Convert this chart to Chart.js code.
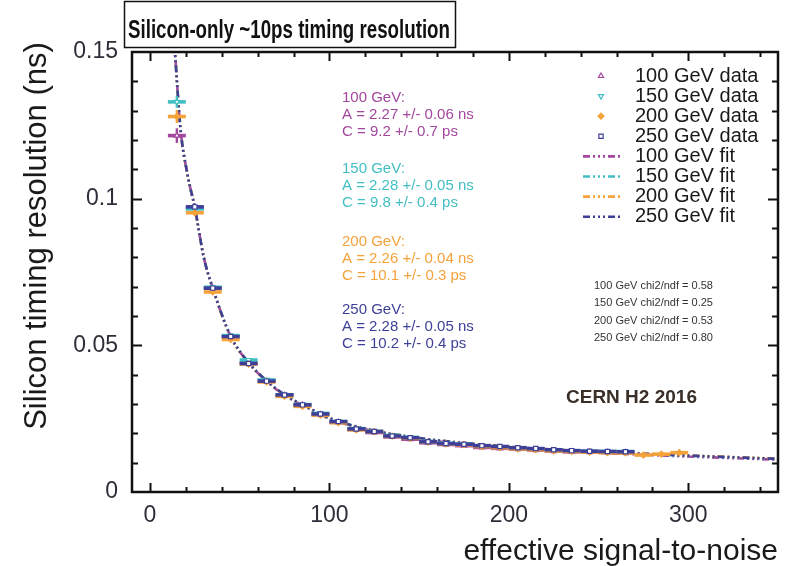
<!DOCTYPE html>
<html>
<head>
<meta charset="utf-8">
<script src="https://cdn.jsdelivr.net/npm/chart.js@4.4.0/dist/chart.umd.min.js"></script>
<style>
  html, body { margin: 0; padding: 0; background: #fff; }
  #wrap { width: 792px; height: 566px; }
</style>
</head>
<body>
<div id="wrap"><canvas id="chart" width="792" height="566"></canvas></div>
<script>
// axis ticks
const xTicks = [0, 100, 200, 300];
const yTicks = [0, 0.05, 0.1, 0.15];

// data: effective S/N bins and timing resolution (ns)
const snr100 = [15, 25, 35, 45, 55, 65, 75, 85, 95, 105, 115, 125, 135, 145, 155, 165, 175, 185, 195, 205, 215, 225, 235, 245, 255, 265];
const res100 = [0.1215, 0.0970, 0.0695, 0.0530, 0.0440, 0.0378, 0.0330, 0.0297, 0.0264, 0.0238, 0.0213, 0.0203, 0.0188, 0.0180, 0.0168, 0.0162, 0.0158, 0.0152, 0.0149, 0.0146, 0.0143, 0.0139, 0.0137, 0.0136, 0.0135, 0.0135];
const err100 = [0.0025, 0.0012, 0.0009, 0.0008, 0.0007, 0.0006, 0.0006, 0.0005, 0.0005, 0.0005, 0.0005, 0.0005, 0.0005, 0.0005, 0.0005, 0.0005, 0.0005, 0.0005, 0.0005, 0.0005, 0.0005, 0.0005, 0.0005, 0.0005, 0.0005, 0.0005];

const snr150 = [15, 25, 35, 45, 55, 65, 75, 85, 95, 105, 115, 125, 135, 145, 155, 165, 175, 185, 195, 205, 215, 225, 235, 245, 255, 265];
const res150 = [0.1330, 0.0965, 0.0698, 0.0533, 0.0450, 0.0382, 0.0331, 0.0298, 0.0268, 0.0240, 0.0216, 0.0207, 0.0193, 0.0186, 0.0172, 0.0166, 0.0163, 0.0157, 0.0153, 0.0149, 0.0146, 0.0142, 0.0140, 0.0139, 0.0138, 0.0138];
const err150 = [0.0020, 0.0010, 0.0008, 0.0007, 0.0006, 0.0005, 0.0005, 0.0005, 0.0004, 0.0004, 0.0004, 0.0004, 0.0004, 0.0004, 0.0004, 0.0004, 0.0004, 0.0004, 0.0004, 0.0004, 0.0004, 0.0004, 0.0004, 0.0004, 0.0004, 0.0004];

const snr200 = [15, 25, 35, 45, 55, 65, 75, 85, 95, 105, 115, 125, 135, 145, 155, 165, 175, 185, 195, 205, 215, 225, 235, 245, 255, 265, 275, 285, 295];
const res200 = [0.1280, 0.0952, 0.0682, 0.0520, 0.0436, 0.0375, 0.0326, 0.0292, 0.0262, 0.0236, 0.0212, 0.0206, 0.0190, 0.0183, 0.0170, 0.0164, 0.0161, 0.0155, 0.0151, 0.0147, 0.0144, 0.0140, 0.0138, 0.0136, 0.0134, 0.0133, 0.0126, 0.0129, 0.0134];
const err200 = [0.0022, 0.0010, 0.0008, 0.0007, 0.0006, 0.0005, 0.0005, 0.0004, 0.0004, 0.0004, 0.0004, 0.0004, 0.0004, 0.0004, 0.0004, 0.0004, 0.0004, 0.0004, 0.0004, 0.0004, 0.0004, 0.0004, 0.0004, 0.0004, 0.0004, 0.0004, 0.0005, 0.0005, 0.0006];

const snr250 = [25, 35, 45, 55, 65, 75, 85, 95, 105, 115, 125, 135, 145, 155, 165, 175, 185, 195, 205, 215, 225, 235, 245, 255, 265];
const res250 = [0.0972, 0.0695, 0.0530, 0.0438, 0.0378, 0.0331, 0.0297, 0.0266, 0.0240, 0.0215, 0.0206, 0.0191, 0.0185, 0.0171, 0.0165, 0.0163, 0.0158, 0.0155, 0.0151, 0.0148, 0.0144, 0.0141, 0.0139, 0.0138, 0.0137];
const err250 = [0.0010, 0.0008, 0.0007, 0.0006, 0.0005, 0.0005, 0.0004, 0.0004, 0.0004, 0.0004, 0.0004, 0.0004, 0.0004, 0.0004, 0.0004, 0.0004, 0.0004, 0.0004, 0.0004, 0.0004, 0.0004, 0.0004, 0.0004, 0.0004, 0.0004];

const binHalfWidth = 5;

// fit curves
const fitSnr = [13.5, 17, 21, 25, 30, 35, 45, 55, 65, 75, 90, 100, 125, 150, 175, 200, 250, 300, 350];
const fit100 = [0.154, 0.124, 0.108, 0.097, 0.080, 0.0695, 0.0530, 0.0440, 0.0378, 0.0330, 0.0280, 0.0250, 0.0207, 0.0181, 0.0164, 0.0151, 0.0134, 0.0121, 0.0110];
const fit150 = [0.154, 0.124, 0.108, 0.097, 0.080, 0.0696, 0.0532, 0.0442, 0.0380, 0.0332, 0.0282, 0.0252, 0.0209, 0.0183, 0.0166, 0.0153, 0.0136, 0.0124, 0.0113];
const fit200 = [0.154, 0.124, 0.108, 0.097, 0.080, 0.0694, 0.0529, 0.0440, 0.0378, 0.0331, 0.0281, 0.0251, 0.0209, 0.0184, 0.0167, 0.0154, 0.0137, 0.0125, 0.0114];
const fit250 = [0.154, 0.124, 0.108, 0.097, 0.080, 0.0695, 0.0531, 0.0441, 0.0379, 0.0332, 0.0282, 0.0252, 0.0209, 0.0184, 0.0167, 0.0154, 0.0137, 0.0124, 0.0113];

const energies = ['100 GeV', '150 GeV', '200 GeV', '250 GeV'];
const fitA = ['2.27 +/- 0.06', '2.28 +/- 0.05', '2.26 +/- 0.04', '2.28 +/- 0.05'];
const fitC = ['9.2 +/- 0.7', '9.8 +/- 0.4', '10.1 +/- 0.3', '10.2 +/- 0.4'];
const chi2ndf = ['0.58', '0.25', '0.53', '0.80'];

const colors = ['#a2479d', '#42bfc3', '#f5a23b', '#3d3f98'];
const markers = [
  { style: 'triangle', rotation: 0, fill: '#fff' },
  { style: 'triangle', rotation: 180, fill: '#fff' },
  { style: 'rectRot', rotation: 0, fill: null },
  { style: 'rect', rotation: 0, fill: '#fff' }
];
const fitDash = [7, 3, 2, 3, 2, 3, 2, 3];

const FONT = "'Liberation Sans', Arial, Helvetica, sans-serif";
Chart.defaults.font.family = FONT;

const toPts = (xs, ys) => xs.map((x, i) => ({ x, y: ys[i] }));
const dataSets = [[snr100, res100, err100], [snr150, res150, err150], [snr200, res200, err200], [snr250, res250, err250]];
const fitSets = [fit100, fit150, fit200, fit250];

const datasets = [];
dataSets.forEach(([xs, ys, es], i) => {
  datasets.push({
    label: energies[i] + ' data',
    data: toPts(xs, ys),
    errY: es,
    isData: true,
    showLine: false,
    order: 4 - i,
    pointStyle: markers[i].style,
    rotation: markers[i].rotation,
    pointRadius: 3,
    pointBorderWidth: 1.2,
    borderColor: colors[i],
    backgroundColor: markers[i].fill || colors[i]
  });
});
fitSets.forEach((ys, i) => {
  datasets.push({
    type: 'line',
    label: energies[i] + ' fit',
    data: toPts(fitSnr, ys),
    showLine: true,
    order: 10 - i,
    pointRadius: 0,
    borderColor: colors[i],
    borderWidth: 2.6,
    borderDash: fitDash,
    borderDashOffset: i === 0 ? 5 : 0,
    cubicInterpolationMode: 'monotone',
    fill: false
  });
});

// horizontal/vertical error bars, drawn under each data set's markers
const errorBars = {
  id: 'errorBars',
  beforeDatasetDraw(chart, args) {
    const ds = chart.data.datasets[args.index];
    if (!ds.isData) return;
    const { ctx, scales: { x, y } } = chart;
    ctx.save();
    ctx.beginPath();
    ctx.rect(chart.chartArea.left, chart.chartArea.top, chart.chartArea.width, chart.chartArea.height);
    ctx.clip();
    ctx.strokeStyle = ds.borderColor;
    ds.data.forEach((p, i) => {
      const px = x.getPixelForValue(p.x), py = y.getPixelForValue(p.y);
      ctx.lineWidth = 3.6;
      ctx.beginPath();
      ctx.moveTo(x.getPixelForValue(p.x - binHalfWidth), py);
      ctx.lineTo(x.getPixelForValue(p.x + binHalfWidth), py);
      ctx.stroke();
      ctx.lineWidth = 2.4;
      ctx.beginPath();
      ctx.moveTo(px, y.getPixelForValue(p.y - ds.errY[i]));
      ctx.lineTo(px, y.getPixelForValue(p.y + ds.errY[i]));
      ctx.stroke();
    });
    ctx.restore();
  }
};

// closed frame with inward ticks on all four sides
const frame = {
  id: 'frame',
  afterDatasetsDraw(chart) {
    const { ctx, chartArea: a, scales: { x, y } } = chart;
    ctx.save();
    ctx.strokeStyle = '#111';
    ctx.lineWidth = 2;
    for (let v = 0; v <= 340; v += 20) {
      const px = Math.round(x.getPixelForValue(v)) + 0.5;
      const len = v % 100 === 0 ? 9 : 5;
      ctx.beginPath();
      ctx.moveTo(px, a.bottom); ctx.lineTo(px, a.bottom - len);
      ctx.moveTo(px, a.top); ctx.lineTo(px, a.top + len);
      ctx.stroke();
    }
    for (let k = 1; k < 15; k++) {
      const py = Math.round(y.getPixelForValue(k / 100)) + 0.5;
      const len = k % 5 === 0 ? 10 : 6;
      ctx.beginPath();
      ctx.moveTo(a.left, py); ctx.lineTo(a.left + len, py);
      ctx.moveTo(a.right, py); ctx.lineTo(a.right - len, py);
      ctx.stroke();
    }
    ctx.lineWidth = 2.5;
    ctx.strokeRect(a.left, a.top, a.right - a.left, a.bottom - a.top);
    ctx.restore();
  }
};

const annotations = {
  id: 'annotations',
  afterDraw(chart) {
    const { ctx } = chart;
    const H = Chart.helpers;
    ctx.save();

    // title box
    ctx.fillStyle = '#fff';
    ctx.fillRect(124, 1, 332, 47);
    ctx.strokeStyle = '#111';
    ctx.lineWidth = 1.5;
    ctx.strokeRect(124.5, 1.5, 331, 46);
    ctx.fillStyle = '#111';
    ctx.font = 'bold 25px ' + FONT;
    ctx.textBaseline = 'alphabetic';
    ctx.textAlign = 'left';
    const title = 'Silicon-only ~10ps timing resolution';
    const tw = ctx.measureText(title).width;
    ctx.save();
    ctx.translate(128, 38);
    ctx.scale(322 / tw, 1);
    ctx.fillText(title, 0, 0);
    ctx.restore();

    // axis titles
    ctx.fillStyle = '#1a1a1a';
    ctx.font = '30px ' + FONT;
    ctx.textAlign = 'right';
    ctx.fillText('effective signal-to-noise', 778, 560);
    ctx.save();
    ctx.translate(46, 236);
    ctx.rotate(-Math.PI / 2);
    ctx.textAlign = 'center';
    ctx.font = '31px ' + FONT;
    ctx.fillText('Silicon timing resolution (ns)', 0, 0);
    ctx.restore();

    // fit parameter text blocks
    const blockTop = [98, 169, 242, 310];
    ctx.textAlign = 'left';
    ctx.textBaseline = 'middle';
    ctx.font = '15px ' + FONT;
    energies.forEach((e, i) => {
      ctx.fillStyle = colors[i];
      ctx.fillText(e + ':', 342, blockTop[i]);
      ctx.fillText('A = ' + fitA[i] + ' ns', 342, blockTop[i] + 16.8);
      ctx.fillText('C = ' + fitC[i] + ' ps', 342, blockTop[i] + 33.6);
    });

    // legend
    ctx.font = '20px ' + FONT;
    const rowH = 20.1;
    energies.forEach((e, i) => {
      const yy = 76 + rowH * i;
      ctx.fillStyle = markers[i].fill || colors[i];
      ctx.strokeStyle = colors[i];
      ctx.lineWidth = 1.2;
      H.drawPoint(ctx, { pointStyle: markers[i].style, rotation: markers[i].rotation, radius: 3, borderWidth: 1.2 }, 601, yy);
      ctx.fillStyle = '#1a1a1a';
      ctx.fillText(e + ' data', 635, yy);
    });
    energies.forEach((e, i) => {
      const yy = 76 + rowH * (i + 4);
      ctx.strokeStyle = colors[i];
      ctx.lineWidth = 2.6;
      ctx.setLineDash(fitDash);
      ctx.beginPath();
      ctx.moveTo(583, yy); ctx.lineTo(620, yy);
      ctx.stroke();
      ctx.setLineDash([]);
      ctx.fillStyle = '#1a1a1a';
      ctx.fillText(e + ' fit', 635, yy);
    });

    // chi2/ndf
    ctx.font = '11px ' + FONT;
    ctx.fillStyle = '#333';
    energies.forEach((e, i) => {
      ctx.fillText(e + ' chi2/ndf = ' + chi2ndf[i], 594, 286 + 17.4 * i);
    });

    // experiment label
    ctx.font = 'bold 19px ' + FONT;
    ctx.fillStyle = '#3a2f28';
    ctx.fillText('CERN H2 2016', 566, 398);

    ctx.restore();
  }
};

new Chart(document.getElementById('chart'), {
  type: 'scatter',
  data: { datasets },
  options: {
    responsive: false,
    animation: false,
    layout: { padding: { top: 52, right: 14, left: 0, bottom: 0 } },
    plugins: { legend: { display: false }, tooltip: { enabled: false } },
    scales: {
      x: {
        type: 'linear', min: -10, max: 350,
        afterBuildTicks: s => { s.ticks = xTicks.map(v => ({ value: v })); },
        afterFit: s => { s.height = 74; },
        grid: { display: false, drawTicks: false },
        border: { display: false },
        ticks: { font: { size: 23 }, color: '#2e2e38', padding: 10, maxRotation: 0, callback: v => String(v) }
      },
      y: {
        type: 'linear', min: 0, max: 0.15,
        afterBuildTicks: s => { s.ticks = yTicks.map(v => ({ value: v })); },
        afterFit: s => { s.width = 132; },
        grid: { display: false, drawTicks: false },
        border: { display: false },
        ticks: { font: { size: 23 }, color: '#2e2e38', padding: 14, callback: v => String(+v.toFixed(2)) }
      }
    }
  },
  plugins: [errorBars, frame, annotations]
});
</script>
</body>
</html>
